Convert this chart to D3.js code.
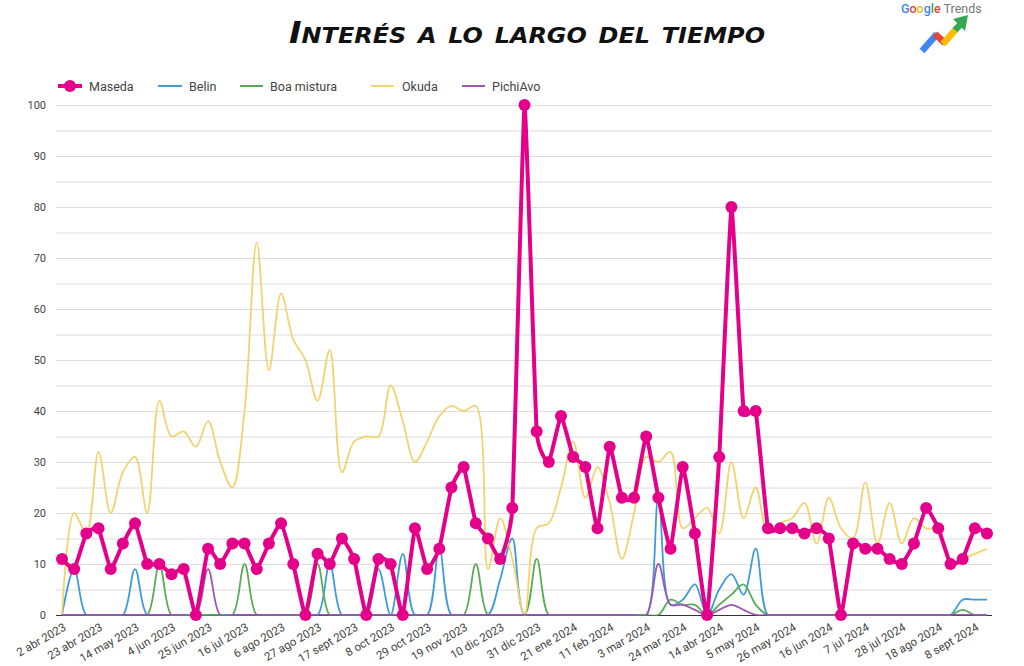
<!DOCTYPE html>
<html><head><meta charset="utf-8">
<script src="https://cdn.jsdelivr.net/npm/d3@7"></script>
<style>
html,body{margin:0;padding:0;background:#fff;}
svg{display:block;}
</style></head>
<body>
<svg id="chart" width="1024" height="666"></svg>
<script>
const seriesNames = ["Maseda", "Belin", "Boa mistura", "Okuda", "PichiAvo"];
const seriesColors = ["#e4008a", "#3f9bd8", "#5aab55", "#f3d36e", "#9f55b5"];

const maseda = [11,9,16,17,9,14,18,10,10,8,9,0,13,10,14,14,9,14,18,10,0,12,10,15,11,0,11,10,0,17,9,13,25,29,18,15,11,21,100,36,30,39,31,29,17,33,23,23,35,23,13,29,16,0,31,80,40,40,17,17,17,16,17,15,0,14,13,13,11,10,14,21,17,10,11,17,16];
const belin  = [0,9,0,0,0,0,9,0,0,0,0,0,0,0,0,0,0,0,0,0,0,0,10,0,0,0,9,0,12,0,0,13,0,0,0,0,7,15,0,0,0,0,0,0,0,0,0,0,0,23,2,3,6,0,5,8,4,13,0,0,0,0,0,0,0,0,0,0,0,0,0,0,0,0,3,3,3];
const boa    = [0,0,0,0,0,0,0,0,10,0,0,0,0,0,0,10,0,0,0,0,0,10,0,0,0,0,0,0,0,0,0,0,0,0,10,0,0,0,0,11,0,0,0,0,0,0,0,0,0,0,3,2,2,0,2,4,6,2,0,0,0,0,0,0,0,0,0,0,0,0,0,0,0,0,1,0,0];
const okuda  = [0,20,16,32,20,28,31,20,42,35,36,33,38,30,25,40,73,48,63,54,50,42,52,28,34,35,35,45,38,30,34,39,41,40,41,9,19,11,0,17,18,25,34,23,29,22,11,20,31,30,32,17,19,21,16,30,19,25,16,18,19,22,14,23,17,15,26,14,22,14,19,17,17,10,11,12,13];
const pichi  = [0,0,0,0,0,0,0,0,0,0,0,0,9,0,0,0,0,0,0,0,0,0,0,0,0,0,0,0,0,0,0,0,0,0,0,0,0,0,0,0,0,0,0,0,0,0,0,0,0,10,2,2,1,0,1,2,1,0,0,0,0,0,0,0,0,0,0,0,0,0,0,0,0,0,0,0,0];

const xTickLabels = ["2 abr 2023","23 abr 2023","14 may 2023","4 jun 2023","25 jun 2023","16 jul 2023","6 ago 2023","27 ago 2023","17 sept 2023","8 oct 2023","29 oct 2023","19 nov 2023","10 dic 2023","31 dic 2023","21 ene 2024","11 feb 2024","3 mar 2024","24 mar 2024","14 abr 2024","5 may 2024","26 may 2024","16 jun 2024","7 jul 2024","28 jul 2024","18 ago 2024","8 sept 2024"];
const yTicks = [0,10,20,30,40,50,60,70,80,90,100];
const titleText = "Interés a lo largo del tiempo";

(function () {
const svg = d3.select("#chart");
const pLeft = 56, pRight = 992, pTop = 105, pBottom = 615;
const n = maseda.length;
const x = d3.scaleLinear().domain([0, n - 1]).range([62, 987]);
const y = d3.scaleLinear().domain([0, 100]).range([pBottom, pTop]);

// title
svg.append("text")
  .attr("x", 527).attr("y", 43)
  .attr("text-anchor", "middle")
  .attr("font-family", "DejaVu Sans")
  .attr("font-style", "italic")
  .attr("font-weight", "900")
  .attr("font-size", 31)
  .style("font-variant", "small-caps")
  .attr("textLength", 476)
  .attr("lengthAdjust", "spacingAndGlyphs")
  .attr("fill", "#111")
  .text(titleText);

// Google Trends logo
const gt = svg.append("text").attr("x", 901).attr("y", 13)
  .attr("font-family", "Roboto").attr("font-size", 12.5);
const gColors = ["#4285f4","#ea4335","#fbbc05","#4285f4","#34a853","#ea4335"];
"Google".split("").forEach((c, i) => gt.append("tspan").attr("fill", gColors[i]).attr("font-weight", 500).text(c));
gt.append("tspan").attr("fill", "#777").text(" Trends");
const logo = svg.append("g").attr("stroke-width", 6.5).attr("stroke-linecap", "butt").attr("fill", "none");
logo.append("line").attr("x1", 922).attr("y1", 51).attr("x2", 937).attr("y2", 34).attr("stroke", "#4285f4");
logo.append("line").attr("x1", 935).attr("y1", 34).attr("x2", 945).attr("y2", 43).attr("stroke", "#ea4335");
logo.append("line").attr("x1", 943).attr("y1", 44).attr("x2", 956).attr("y2", 29).attr("stroke", "#fbbc05");
logo.append("line").attr("x1", 955).attr("y1", 30).attr("x2", 961).attr("y2", 24).attr("stroke", "#34a853");
svg.append("path").attr("d", "M953,19 L968,15 L965,31 Z").attr("fill", "#34a853");

// gridlines every 5
const gridVals = d3.range(5, 101, 5);
svg.append("g").selectAll("line").data(gridVals).join("line")
  .attr("x1", pLeft).attr("x2", pRight)
  .attr("y1", d => y(d) + 0.5).attr("y2", d => y(d) + 0.5)
  .attr("stroke", "#dcdcdc").attr("stroke-width", 1);

// y axis labels
const yAxis = d3.axisLeft(y).tickValues(yTicks).tickSize(0).tickPadding(0);
const yg = svg.append("g").attr("transform", `translate(${pLeft - 10},0)`).call(yAxis);
yg.select(".domain").remove();
yg.selectAll("text").attr("font-family", "Roboto").attr("font-size", 11).attr("fill", "#444");

// baseline
svg.append("line").attr("x1", pLeft).attr("x2", pRight).attr("y1", pBottom + 0.5).attr("y2", pBottom + 0.5)
  .attr("stroke", "#333").attr("stroke-width", 1);

// x axis labels
const xAxis = d3.axisBottom(x).tickValues(xTickLabels.map((d, i) => i * 3))
  .tickFormat((d, i) => xTickLabels[i]).tickSize(0).tickPadding(0);
const xg = svg.append("g").attr("transform", `translate(0,${pBottom + 7})`).call(xAxis);
xg.select(".domain").remove();
xg.selectAll("text")
  .attr("font-family", "Roboto").attr("font-size", 11.5).attr("fill", "#444")
  .attr("text-anchor", "end").attr("dy", "0.75em")
  .attr("transform", "rotate(-30)");

// clip
svg.append("clipPath").attr("id", "plotclip").append("rect")
  .attr("x", pLeft).attr("y", pTop - 6).attr("width", pRight - pLeft).attr("height", pBottom - pTop + 6.5);

const line = d3.line().x((d, i) => x(i)).y(d => y(d)).curve(d3.curveCatmullRom.alpha(0.5));
const lineMain = d3.line().x((d, i) => x(i)).y(d => y(d)).curve(d3.curveCardinal.tension(0.65));
const plot = svg.append("g").attr("clip-path", "url(#plotclip)");
const others = [[belin, 1], [boa, 2], [okuda, 3], [pichi, 4]];
others.forEach(([arr, k]) => {
  plot.append("path").attr("d", line(arr)).attr("fill", "none")
    .attr("stroke", seriesColors[k]).attr("stroke-width", 1.8).attr("stroke-linejoin", "round");
});
plot.append("path").attr("d", lineMain(maseda)).attr("fill", "none")
  .attr("stroke", seriesColors[0]).attr("stroke-width", 4).attr("stroke-linejoin", "round");
svg.append("g").selectAll("circle").data(maseda).join("circle")
  .attr("cx", (d, i) => x(i)).attr("cy", d => y(d)).attr("r", 6)
  .attr("fill", seriesColors[0]);

// legend
const legendItems = [
  {k: 0, x1: 58, x2: 82, tx: 89},
  {k: 1, x1: 158, x2: 182, tx: 189},
  {k: 2, x1: 240, x2: 263, tx: 270},
  {k: 3, x1: 371, x2: 394, tx: 402},
  {k: 4, x1: 462, x2: 485, tx: 492}
];
const lg = svg.append("g");
legendItems.forEach(it => {
  lg.append("line").attr("x1", it.x1).attr("x2", it.x2).attr("y1", 86).attr("y2", 86)
    .attr("stroke", seriesColors[it.k]).attr("stroke-width", it.k === 0 ? 4 : 2);
  if (it.k === 0) lg.append("circle").attr("cx", (it.x1 + it.x2) / 2).attr("cy", 86).attr("r", 6).attr("fill", seriesColors[0]);
  lg.append("text").attr("x", it.tx).attr("y", 90.5).attr("font-family", "Roboto").attr("font-size", 12.5)
    .attr("fill", "#444").text(seriesNames[it.k]);
});
})();
</script>
</body></html>
